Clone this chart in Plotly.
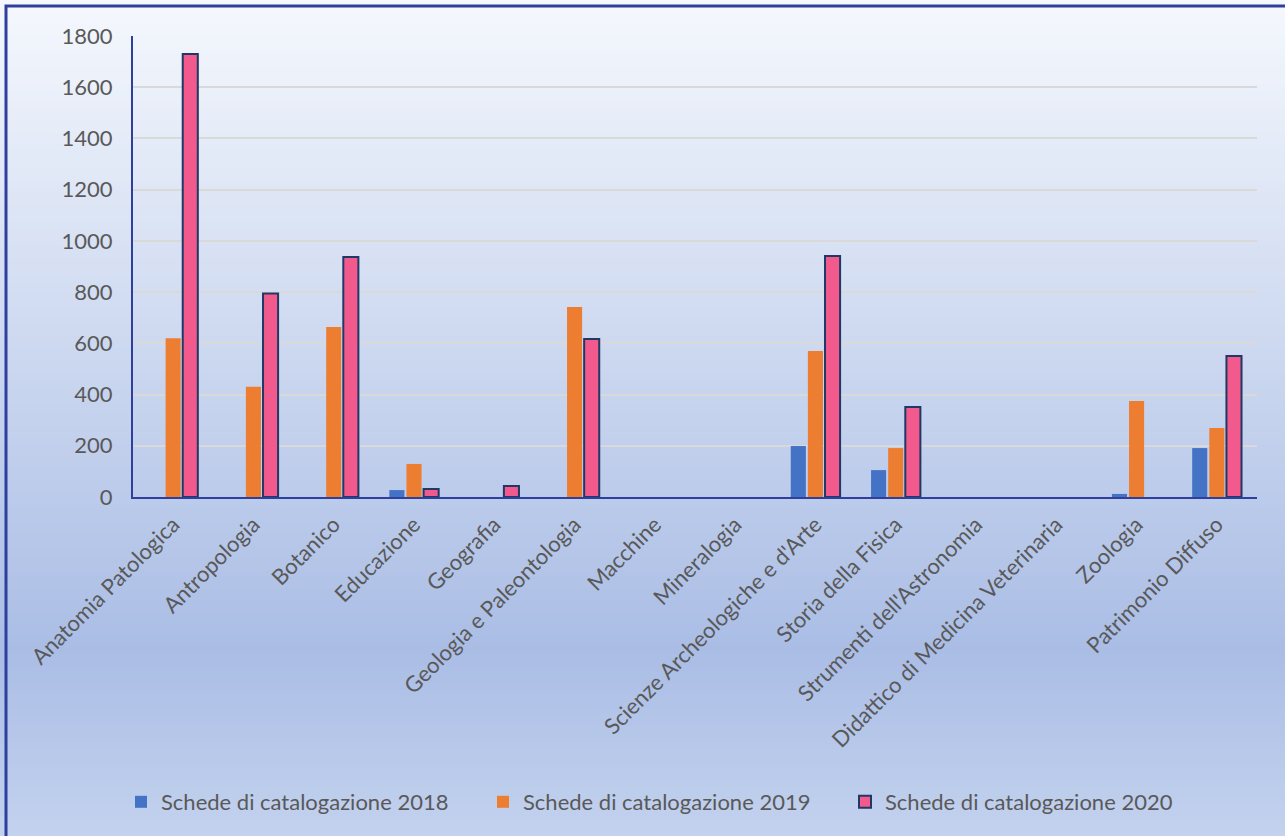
import plotly.graph_objects as go

categories = ["Anatomia Patologica", "Antropologia", "Botanico", "Educazione", "Geografia",
              "Geologia e Paleontologia", "Macchine", "Mineralogia",
              "Scienze Archeologiche e d'Arte", "Storia della Fisica",
              "Strumenti dell'Astronomia", "Didattico di Medicina Veterinaria",
              "Zoologia", "Patrimonio Diffuso"]
s2018 = [0, 0, 0, 27, 0, 0, 0, 0, 199, 105, 0, 0, 12, 191]
s2019 = [620, 430, 664, 129, 0, 742, 0, 0, 570, 191, 0, 0, 375, 269]
s2020 = [1730, 795, 937, 31, 43, 617, 0, 0, 941, 351, 0, 0, 0, 551]
series_names = ["Schede di catalogazione 2018", "Schede di catalogazione 2019",
                "Schede di catalogazione 2020"]
y_ticks = [0, 200, 400, 600, 800, 1000, 1200, 1400, 1600, 1800]

W, H = 1285, 836
L, R, T, B = 133, 1257, 36, 497
FONT = "Lato, Liberation Sans, Arial, sans-serif"
FS = 22

fig = go.Figure()
fig.add_bar(x=categories, y=s2018, name=series_names[0], marker_color="#4472C4",
            marker_line_width=0)
fig.add_bar(x=categories, y=s2019, name=series_names[1], marker_color="#ED7D31",
            marker_line_width=0)
fig.add_bar(x=categories, y=s2020, name=series_names[2], marker_color="#F25A8D",
            marker_line=dict(color="#1F3864", width=[2 if v > 0 else 0 for v in s2020]))

# gradient background via stacked strips
def px2x(px):
    return (px - L) / (R - L)

def py2y(py):
    return (B - py) / (B - T)

stops = [(0, (245, 248, 253)), (650, (170, 189, 229)), (836, (195, 210, 238))]

def col(py):
    for (a, ca), (b, cb) in zip(stops[:-1], stops[1:]):
        if a <= py <= b:
            t = (py - a) / (b - a)
            return "rgb(%d,%d,%d)" % tuple(round(ca[i] + (cb[i] - ca[i]) * t) for i in range(3))
    return "rgb(%d,%d,%d)" % stops[-1][1]

shapes = []
step = 6
for py in range(0, H, step):
    shapes.append(dict(type="rect", xref="paper", yref="paper",
                       x0=px2x(-2), x1=px2x(W + 2), y0=py2y(py + step + 0.5), y1=py2y(py),
                       fillcolor=col(py + step / 2), line_width=0, layer="below"))
# outer border
shapes.append(dict(type="rect", xref="paper", yref="paper",
                   x0=px2x(6), x1=px2x(W + 5), y0=py2y(H + 5), y1=py2y(6),
                   fillcolor="rgba(0,0,0,0)", line=dict(color="#2E3F9E", width=3),
                   layer="above"))

fig.update_layout(
    width=W, height=H,
    margin=dict(l=L, r=W - R, t=T, b=H - B, pad=0),
    paper_bgcolor="#dfe6f5",
    plot_bgcolor="rgba(0,0,0,0)",
    shapes=shapes,
    barmode="group",
    bargap=0.36,
    bargroupgap=0.12,
    font=dict(family=FONT, color="#595959", size=FS),
    showlegend=True,
    legend=dict(orientation="h", x=px2x(121), xanchor="left", y=py2y(781), yanchor="top",
                font=dict(family=FONT, size=FS, color="#595959"), bgcolor="rgba(0,0,0,0)",
                itemwidth=30, entrywidth=317, entrywidthmode="pixels", tracegroupgap=0),
    xaxis=dict(tickangle=-45, showgrid=False, showline=True, linecolor="#2E3F9E",
               linewidth=2, ticks="", ticklabelstandoff=4,
               tickfont=dict(family=FONT, size=FS, color="#595959")),
    yaxis=dict(range=[0, 1800], tickvals=y_ticks, showgrid=True, gridcolor="#D9D9D9",
               gridwidth=2, showline=True, linecolor="#2E3F9E", linewidth=2,
               zeroline=False, ticks="", ticklabelstandoff=14,
               tickfont=dict(family=FONT, size=FS, color="#595959")),
)

fig.write_html("out.html", config={"displayModeBar": False},
               post_script="document.body.style.margin='0px';document.body.style.overflow='hidden';")
